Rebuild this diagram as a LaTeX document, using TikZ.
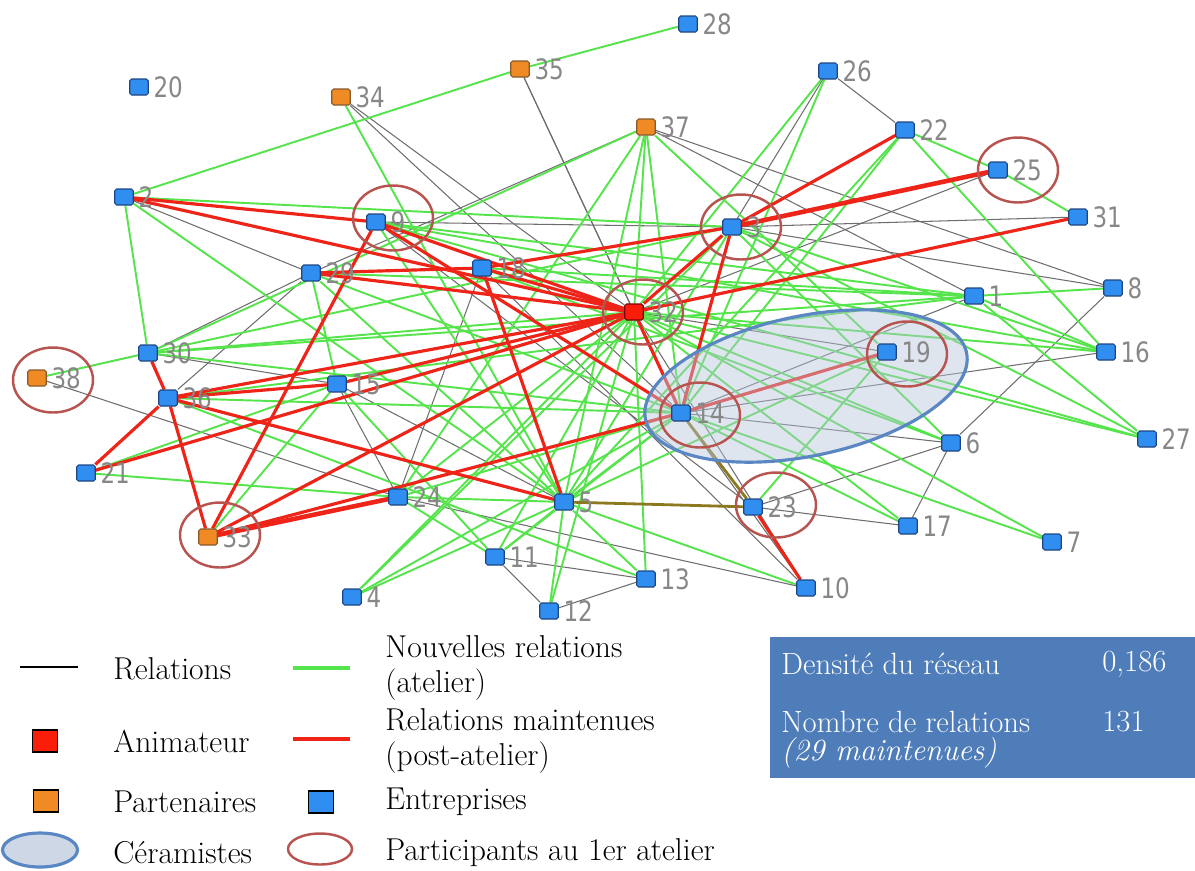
\documentclass[tikz,border=0pt]{standalone}
\usepackage{fontspec}
\newfontfamily\lblfont[FakeStretch=0.82]{DejaVu Sans}
\usetikzlibrary{shapes.geometric}

\definecolor{entblue}{RGB}{47,142,240}
\definecolor{entborder}{RGB}{30,70,130}
\definecolor{partorange}{RGB}{240,138,36}
\definecolor{animred}{RGB}{250,30,10}
\definecolor{newgreen}{RGB}{85,228,75}
\definecolor{keptred}{RGB}{238,36,24}
\definecolor{keptolive}{RGB}{140,120,30}
\definecolor{oldgray}{RGB}{110,110,110}
\definecolor{lblgray}{RGB}{135,135,135}
\definecolor{ringred}{RGB}{184,84,80}
\definecolor{ceramblue}{RGB}{90,135,195}
\definecolor{ceramfill}{RGB}{185,198,220}
\definecolor{boxblue}{RGB}{79,125,186}

\pgfdeclarelayer{edges}
\pgfdeclarelayer{mid}
\pgfsetlayers{edges,mid,main}

\begin{document}
\begin{tikzpicture}[
    x=0.02cm, y=-0.02cm,
    ent/.style={rectangle, draw=entborder, fill=entblue, minimum width=0.37cm, minimum height=0.32cm, inner sep=0pt, rounded corners=1pt, line width=0.6pt},
    part/.style={ent, fill=partorange, draw=brown!70!black},
    anim/.style={ent, fill=animred, draw=red!50!black},
    lbl/.style={font=\lblfont\fontsize{16}{16}\selectfont, text=lblgray, inner sep=1pt, label distance=1.5pt},
    rel/.style={oldgray, line width=0.6pt},
    new/.style={newgreen, line width=1.1pt},
    kept/.style={keptred, line width=1.8pt},
    ring/.style={ellipse, draw=ringred, line width=1.4pt, minimum width=1.6cm, minimum height=1.3cm, inner sep=0pt},
    ceram/.style={ellipse, draw=ceramblue, line width=1.8pt, fill=ceramfill, fill opacity=0.45, minimum width=6.56cm, minimum height=2.8cm},
    legtext/.style={anchor=west, font=\fontsize{18}{20.4}\selectfont, inner sep=0pt, align=left},
    legsq/.style={draw=black, line width=0.9pt, minimum width=0.5cm, minimum height=0.44cm, rounded corners=0pt},
    boxtext/.style={anchor=west, font=\fontsize{17.5}{20}\selectfont, inner sep=0pt, text=white},
]
\useasboundingbox (0,0) rectangle (1195,870);

% Acteurs
\node[ent, label={[lbl]right:1}] (n1) at (974,296) {};
\node[ent, label={[lbl]right:2}] (n2) at (124,197) {};
\node[ent, label={[lbl]right:3}] (n3) at (732,227) {};
\node[ent, label={[lbl]right:4}] (n4) at (352,597) {};
\node[ent, label={[lbl]right:5}] (n5) at (564,502) {};
\node[ent, label={[lbl]right:6}] (n6) at (951,443) {};
\node[ent, label={[lbl]right:7}] (n7) at (1052,542) {};
\node[ent, label={[lbl]right:8}] (n8) at (1113,288) {};
\node[ent, label={[lbl]right:9}] (n9) at (376,222) {};
\node[ent, label={[lbl]right:10}] (n10) at (806,588) {};
\node[ent, label={[lbl]right:11}] (n11) at (495,557) {};
\node[ent, label={[lbl]right:12}] (n12) at (549,611) {};
\node[ent, label={[lbl]right:13}] (n13) at (646,579) {};
\node[ent, label={[lbl]right:14}] (n14) at (681,413) {};
\node[ent, label={[lbl]right:15}] (n15) at (337,384) {};
\node[ent, label={[lbl]right:16}] (n16) at (1106,352) {};
\node[ent, label={[lbl]right:17}] (n17) at (908,526) {};
\node[ent, label={[lbl]right:18}] (n18) at (482,268) {};
\node[ent, label={[lbl]right:19}] (n19) at (887,352) {};
\node[ent, label={[lbl]right:20}] (n20) at (139,87) {};
\node[ent, label={[lbl]right:21}] (n21) at (86,473) {};
\node[ent, label={[lbl]right:22}] (n22) at (905,130) {};
\node[ent, label={[lbl]right:23}] (n23) at (753,507) {};
\node[ent, label={[lbl]right:24}] (n24) at (398,497) {};
\node[ent, label={[lbl]right:25}] (n25) at (998,170) {};
\node[ent, label={[lbl]right:26}] (n26) at (828,71) {};
\node[ent, label={[lbl]right:27}] (n27) at (1147,439) {};
\node[ent, label={[lbl]right:28}] (n28) at (688,24) {};
\node[ent, label={[lbl]right:29}] (n29) at (311,273) {};
\node[ent, label={[lbl]right:30}] (n30) at (148,353) {};
\node[ent, label={[lbl]right:31}] (n31) at (1078,217) {};
\node[anim, label={[lbl]right:32}] (n32) at (634,312) {};
\node[part, label={[lbl]right:33}] (n33) at (208,537) {};
\node[part, label={[lbl]right:34}] (n34) at (341,97) {};
\node[part, label={[lbl]right:35}] (n35) at (520,69) {};
\node[ent, label={[lbl]right:36}] (n36) at (168,398) {};
\node[part, label={[lbl]right:37}] (n37) at (646,127) {};
\node[part, label={[lbl]right:38}] (n38) at (37,378) {};

\begin{pgfonlayer}{edges}
% Relations
\foreach \a/\b in {2/29,30/29,30/38,30/15,36/29,38/24,15/24,24/18,15/5,34/14,34/32,35/32,35/14,
    37/29,37/1,37/8,26/3,26/22,25/32,3/31,9/3,3/8,1/14,8/6,16/14,19/32,6/14,6/17,6/23,17/23,
    10/14,10/24,13/11,13/12,12/11,18/10,9/23,32/10,3/5}
  \draw[rel] (n\a) -- (n\b);
% Nouvelles relations
\foreach \a/\b in {35/28,35/2,2/30,2/3,2/5,34/5,37/30,37/32,37/14,37/5,37/24,37/19,26/32,26/14,
    22/25,22/16,22/3,22/14,22/5,25/31,1/8,1/16,1/27,1/30,1/29,1/9,1/36,1/18,32/16,32/27,32/6,
    32/17,32/7,32/13,32/12,32/11,32/4,32/21,32/30,32/24,5/24,5/4,5/11,5/12,5/13,5/10,5/14,5/3,
    5/29,5/9,5/19,3/16,3/27,3/6,3/30,3/4,14/24,14/4,14/11,14/30,14/29,14/17,14/7,19/23,9/16,
    9/27,18/6,24/21,24/11,15/11,15/29,33/15,21/15,38/30,36/14,13/36}
  \draw[new] (n\a) -- (n\b);
% Relations maintenues
\foreach \a/\b in {2/9,2/32,9/32,9/33,9/14,18/32,18/5,18/3,29/32,29/18,36/32,36/15,36/5,36/21,
    30/36,36/33,21/32,15/32,33/32,14/19,32/3,32/14,32/31,3/14,3/22,23/10}
  \draw[kept] (n\a) -- (n\b);
\draw[kept, line width=2.6pt] (n3) -- (n25);
\draw[kept, line width=2.6pt] (n33) -- (n24);
\draw[kept] (n33) -- (n14);
\draw[keptolive, line width=1.6pt] (n5) -- (n23);
\draw[keptolive, line width=1.6pt] (n14) -- (n23);
\end{pgfonlayer}

% Ceramistes
\begin{pgfonlayer}{mid}
\node[ceram, rotate=11.7] (cer) at (806,386) {};
\end{pgfonlayer}

% Participants au 1er atelier
\node[ring] (r38) at (53,380) {};
\node[ring] (r9) at (393,218) {};
\node[ring] (r3) at (741,227) {};
\node[ring] (r25) at (1018,170) {};
\node[ring] (r32) at (643,312) {};
\node[ring] (r19) at (907,354) {};
\node[ring] (r14) at (700,415) {};
\node[ring] (r23) at (776,505) {};
\node[ring] (r33) at (220,535) {};

% Legende
\draw[black, line width=0.9pt] (20,667) -- (78,667);
\node[legtext] (lrel) at (113,669) {Relations};
\draw[newgreen, line width=2pt] (293,668) -- (350,668);
\node[legtext] (lnew) at (385,668) {Nouvelles relations\\(atelier)};
\node[anim, legsq] (lanim) at (45,741) {};
\node[legtext] (lanimt) at (113,741) {Animateur};
\draw[keptred, line width=2pt] (293,739) -- (350,739);
\node[legtext] (lkept) at (385,741) {Relations maintenues\\(post-atelier)};
\node[part, legsq] (lpart) at (46,801) {};
\node[legtext] (lpartt) at (113,802) {Partenaires};
\node[ent, legsq] (lent) at (321,802) {};
\node[legtext] (lentt) at (385,802) {Entreprises};
\node[ceram, fill opacity=1, fill=ceramfill!70, minimum width=1.5cm, minimum height=0.68cm] (lcer) at (40,850) {};
\node[legtext] (lcert) at (113,853) {Céramistes};
\node[ring, minimum width=1.28cm, minimum height=0.62cm] (lring) at (320,849) {};
\node[legtext] (lringt) at (385,853) {Participants au 1er atelier};

% Indicateurs
\fill[boxblue] (770,637) rectangle (1195,778);
\node[boxtext] (dens) at (781,664) {Densité du réseau};
\node[boxtext] (densv) at (1102,664) {0,186};
\node[boxtext] (nbr) at (781,722) {Nombre de relations};
\node[boxtext] (nbrv) at (1102,722) {131};
\node[boxtext] (nbrm) at (781,753) {\itshape (29 maintenues)};

\end{tikzpicture}
\end{document}
